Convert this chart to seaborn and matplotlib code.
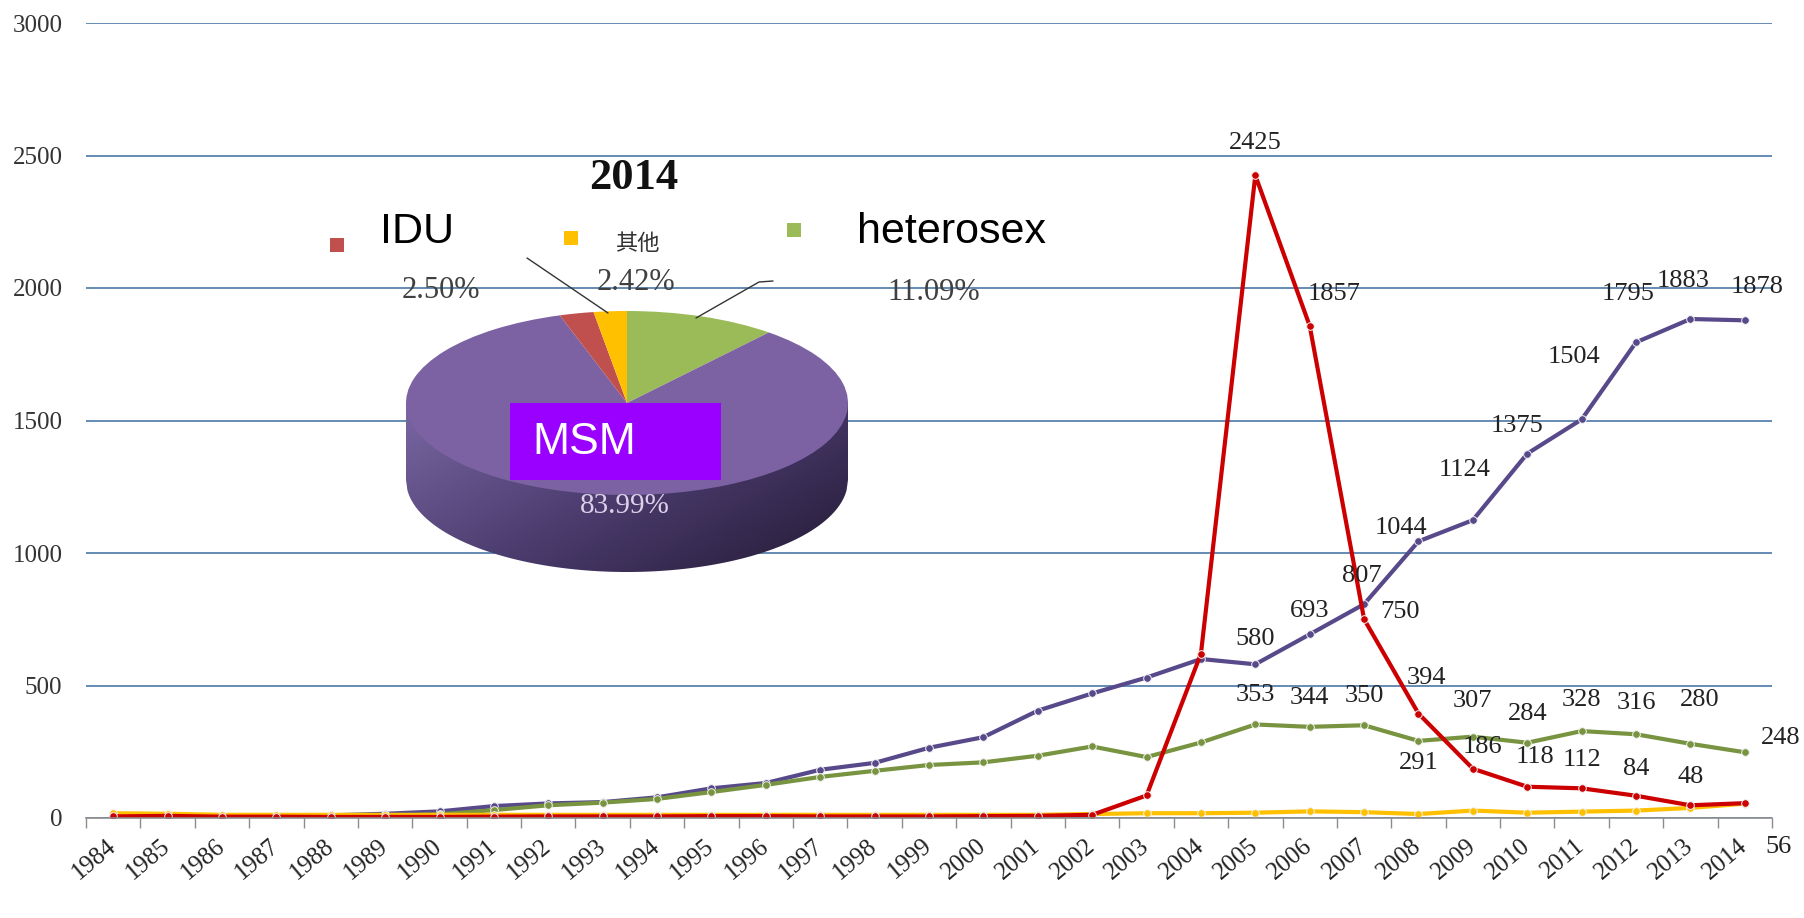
import numpy as np
import pandas as pd
import matplotlib
matplotlib.use('Agg')
import matplotlib.pyplot as plt
import seaborn as sns
from matplotlib.colors import LinearSegmentedColormap
from matplotlib.patches import Polygon, Rectangle
from matplotlib.lines import Line2D

# yearly new cases by transmission route
years = list(range(1984, 2015))
msm = [3, 3, 4, 6, 10, 16, 25, 45, 55, 60, 78, 112, 132, 182, 208, 265, 305, 405, 470, 530, 600,
       580, 693, 807, 1044, 1124, 1375, 1504, 1795, 1883, 1878]
hetero = [2, 2, 3, 4, 6, 8, 14, 30, 48, 58, 72, 98, 125, 155, 178, 200, 210, 235, 270, 230, 285,
          353, 344, 350, 291, 307, 284, 328, 316, 280, 248]
idu = [6, 8, 5, 5, 4, 4, 4, 5, 6, 6, 6, 7, 7, 6, 6, 6, 7, 8, 12, 85, 620,
       2425, 1857, 750, 394, 186, 118, 112, 84, 48, 56]
other = [18, 16, 12, 12, 12, 12, 12, 12, 12, 12, 12, 12, 12, 12, 12, 12, 12, 12, 15, 18, 18,
         20, 25, 22, 15, 28, 20, 24, 28, 38, 54]

# 2014 share pie
pie_labels = ['heterosex', 'MSM', 'IDU', '其他']
pie_share = [11.09, 83.99, 2.50, 2.42]

W, H = 1804, 918

sns.set_theme(style='white')
plt.rcParams['font.family'] = ['Liberation Serif', 'Noto Sans CJK SC']

colors = {'MSM': '#57498a', 'heterosex': '#789440', 'IDU': '#cc0000', '其他': '#ffc000'}
pie_colors = {'MSM': '#7c62a3', 'heterosex': '#9bbb59', 'IDU': '#c0504d', '其他': '#ffc000'}

df = pd.DataFrame({
    'year': years * 4,
    'cases': msm + hetero + other + idu,
    'group': ['MSM'] * 31 + ['heterosex'] * 31 + ['其他'] * 31 + ['IDU'] * 31,
})

fig = plt.figure(figsize=(W / 100, H / 100), dpi=100)
ax = fig.add_axes([86 / W, 1 - 818 / H, (1772 - 86) / W, (818 - 23) / H])

sns.lineplot(data=df, x='year', y='cases', hue='group',
             hue_order=['MSM', 'heterosex', '其他', 'IDU'], palette=colors,
             marker='o', markersize=5.5, markeredgecolor='#f2f2f2', markeredgewidth=0.7,
             linewidth=3, errorbar=None, legend=False, ax=ax)

ax.set_xlim(1983.5, 2014.5)
ax.set_ylim(0, 3000)
ax.set_yticks(range(0, 3001, 500))
ax.set_xticks(years)
ax.set_xticklabels([str(y) for y in years], rotation=40, ha='right',
                   rotation_mode='anchor', va='center', fontsize=18, color='#222222')
ax.set_xticks(np.arange(1983.5, 2015, 1), minor=True)
ax.tick_params(axis='x', which='major', length=0, pad=18)
ax.tick_params(axis='x', which='minor', length=7, color='#8c8c8c', width=1, bottom=True)
ax.tick_params(axis='y', length=0, pad=17, labelsize=18, labelcolor='#333333')
ax.yaxis.grid(True, color='#4a78a8', linewidth=1.2)
ax.xaxis.grid(False)
for s in ['top', 'right', 'left']:
    ax.spines[s].set_visible(False)
ax.spines['bottom'].set_color('#8c8c8c')
ax.spines['bottom'].set_linewidth(1.2)
ax.set_xlabel('')
ax.set_ylabel('')

# data label offsets in pixels (dx right, dy down)
label_offsets = {
    'MSM': {2005: (0, -25), 2006: (0, -23), 2007: (-2, -28), 2008: (-17, -13), 2009: (-8, -50),
            2010: (-10, -28), 2011: (-8, -62), 2012: (-8, -48), 2013: (-7, -38), 2014: (12, -33)},
    'IDU': {2005: (0, -32), 2006: (24, -32), 2007: (36, -7), 2008: (8, -36), 2009: (10, -22),
            2010: (8, -30), 2011: (0, -28), 2012: (0, -27), 2013: (0, -28), 2014: (34, 44)},
    'heterosex': {2005: (0, -29), 2006: (0, -29), 2007: (0, -29), 2008: (0, 22), 2009: (0, -36),
                  2010: (0, -29), 2011: (0, -31), 2012: (0, -31), 2013: (9, -44), 2014: (36, -14)},
}
series = {'MSM': msm, 'IDU': idu, 'heterosex': hetero}
for name, offs in label_offsets.items():
    vals = series[name]
    for yr, (dx, dy) in offs.items():
        v = vals[years.index(yr)]
        ax.annotate(str(v), (yr, v), xytext=(dx, -dy), textcoords='offset pixels',
                    ha='center', va='center', fontsize=19, color='#222222')

# ---- 3D-looking pie inset ----
cx, cy, rx, ry, depth = 627, 403, 221, 92, 77
d = depth / ry
pax = fig.add_axes([(cx - rx) / W, 1 - (cy + ry + depth) / H, 2 * rx / W, (2 * ry + depth) / H])
pax.patch.set_alpha(0)

xs = np.linspace(-1, 1, 300)
side = np.column_stack([np.r_[xs, xs[::-1]], np.r_[-d - np.sqrt(1 - xs ** 2), np.zeros_like(xs)]])
side_patch = Polygon(side, closed=True, facecolor='none', edgecolor='none')
pax.add_patch(side_patch)
gx, gy = np.meshgrid(np.linspace(0, 1, 256), np.linspace(0, 1, 64))
shade = LinearSegmentedColormap.from_list('side', ['#7a67a3', '#4b3c6e', '#241a35'])
im = pax.imshow(0.6 * gx + 0.4 * gy, extent=(-1, 1, -1 - d, 0), cmap=shade,
                aspect='auto', origin='upper')
im.set_clip_path(side_patch)

pax.pie(pie_share, colors=[pie_colors[k] for k in pie_labels], startangle=90,
        counterclock=False, radius=1, wedgeprops=dict(linewidth=0))
pax.set_aspect('auto')
pax.set_xlim(-1, 1)
pax.set_ylim(-1 - d, 1)
pax.axis('off')


def fx(x):
    return x / W


def fy(y):
    return 1 - y / H


fig.text(fx(634), fy(178), '2014', ha='center', va='center', fontsize=32,
         fontweight='bold', color='#111111')

# legend of the pie
sq = 14
for (x, y), key in zip([(337, 245), (571, 238), (794, 230)], ['IDU', '其他', 'heterosex']):
    fig.patches.append(Rectangle((fx(x - sq / 2), fy(y + sq / 2)), sq / W, sq / H,
                                 transform=fig.transFigure, facecolor=pie_colors[key],
                                 edgecolor='none'))
fig.text(fx(380), fy(232), 'IDU', ha='left', va='center', fontsize=31,
         family='Liberation Sans', color='black')
fig.text(fx(615), fy(243), '其他', ha='left', va='center', fontsize=16,
         family='Noto Sans CJK SC', color='#333333')
fig.text(fx(857), fy(232), 'heterosex', ha='left', va='center', fontsize=31,
         family='Liberation Sans', color='black')

# percentages and leader lines
fig.text(fx(441), fy(290), '2.50%', ha='center', va='center', fontsize=22, color='#404040')
fig.text(fx(636), fy(283), '2.42%', ha='center', va='center', fontsize=22, color='#404040')
fig.text(fx(934), fy(293), '11.09%', ha='center', va='center', fontsize=22, color='#404040')
fig.lines.append(Line2D([fx(527), fx(608)], [fy(258), fy(313)], transform=fig.transFigure,
                        color='#333333', linewidth=1))
fig.lines.append(Line2D([fx(773), fx(759), fx(696)], [fy(281), fy(282), fy(318)],
                        transform=fig.transFigure, color='#333333', linewidth=1))

# MSM tag on the pie
fig.patches.append(Rectangle((fx(510), fy(480)), 211 / W, 77 / H, transform=fig.transFigure,
                             facecolor='#9900ff', edgecolor='none', zorder=5))
fig.text(fx(532), fy(443), 'MSM', ha='left', va='center', fontsize=32,
         family='Liberation Sans', color='white', zorder=6)
fig.text(fx(625), fy(506), '83.99%', ha='center', va='center', fontsize=21, color='#ddd0ea',
         zorder=6)

fig.savefig('out.png', dpi=100)
